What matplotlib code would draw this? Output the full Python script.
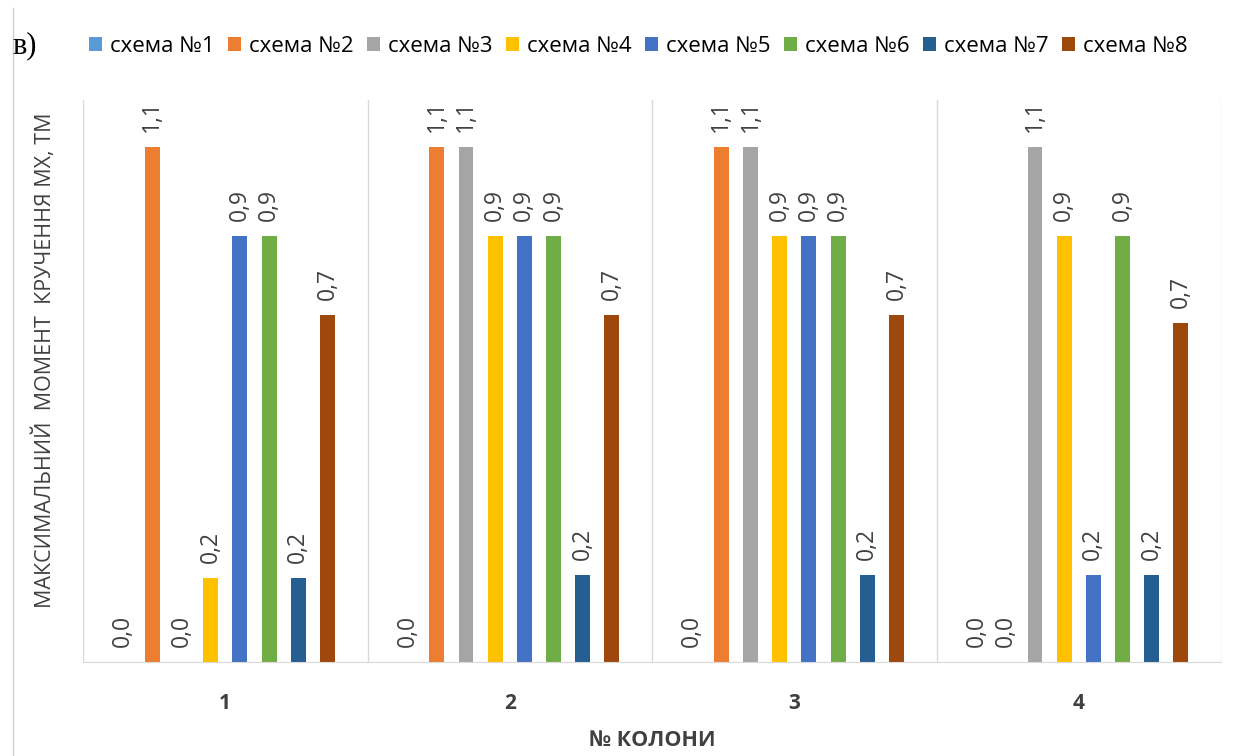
import numpy as np
import matplotlib.pyplot as plt
from matplotlib.lines import Line2D

plt.rcParams['font.family'] = ['Open Sans', 'DejaVu Sans']

# DATA
columns = ['1', '2', '3', '4']
series_names = ['схема №1', 'схема №2', 'схема №3', 'схема №4',
                'схема №5', 'схема №6', 'схема №7', 'схема №8']
colors = ['#5b9bd5', '#ed7d31', '#a5a5a5', '#ffc000',
          '#4472c4', '#70ad47', '#255e91', '#9e480e']
s1 = [0.0, 0.0, 0.0, 0.0]
s2 = [1.10, 1.10, 1.10, 0.0]
s3 = [0.0, 1.10, 1.10, 1.10]
s4 = [0.18, 0.91, 0.91, 0.91]
s5 = [0.91, 0.91, 0.91, 0.185]
s6 = [0.91, 0.91, 0.91, 0.91]
s7 = [0.18, 0.185, 0.185, 0.185]
s8 = [0.74, 0.74, 0.74, 0.723]
series = [s1, s2, s3, s4, s5, s6, s7, s8]

fig = plt.figure(figsize=(12.41, 7.56), dpi=100)
ax = fig.add_axes([0.0669, 0.1243, 0.917, 0.7434])

x = np.arange(len(columns))
slot = 0.1026
bw = 0.0526
for i, (vals, name, c) in enumerate(zip(series, series_names, colors)):
    pos = x + (i - 3.5) * slot
    bars = ax.bar(pos, vals, width=bw, color=c, label=name)
    for b, v in zip(bars, vals):
        ax.text(b.get_x() + b.get_width() / 2, v + 0.032,
                ('%.1f' % v).replace('.', ','), rotation=90,
                ha='center', va='bottom', fontsize=16.5, color='#404040')

ax.set_xlim(-0.5, len(columns) - 0.5)
ax.set_ylim(0, 1.2)
ax.set_yticks([])
ax.set_xticks(x)
ax.set_xticklabels(columns, fontweight='bold', fontsize=15, color='#404040')
ax.tick_params(axis='x', length=0, pad=22)
ax.set_xticks(np.arange(-0.5, len(columns)), minor=True)
ax.tick_params(axis='x', which='minor', length=0)
ax.grid(axis='x', which='minor', color='#d9d9d9', linewidth=1)
for s in ['top', 'right', 'left']:
    ax.spines[s].set_visible(False)
ax.spines['bottom'].set_color('#d9d9d9')

ax.set_xlabel('№ КОЛОНИ', fontweight='bold', fontsize=15.5, color='#404040',
              labelpad=12)
ax.set_ylabel('МАКСИМАЛЬНИЙ  МОМЕНТ  КРУЧЕННЯ МХ, ТМ', fontsize=15.5,
              color='#404040')
ax.yaxis.set_label_coords(-0.0237, 0.537)

ax.legend(loc='center', bbox_to_anchor=(0.488, 1.095), ncol=8, frameon=False,
          fontsize=16, handlelength=0.6, handleheight=0.6,
          handletextpad=0.35, columnspacing=0.6, borderaxespad=0)

fig.text(0.010, 0.94, 'в)', fontsize=22, family='Liberation Serif',
         va='center', ha='left')
fig.add_artist(Line2D([0.0105, 0.0105], [0.0, 0.989], color='#d0d0d0',
                      linewidth=1))

plt.savefig('out.png')
